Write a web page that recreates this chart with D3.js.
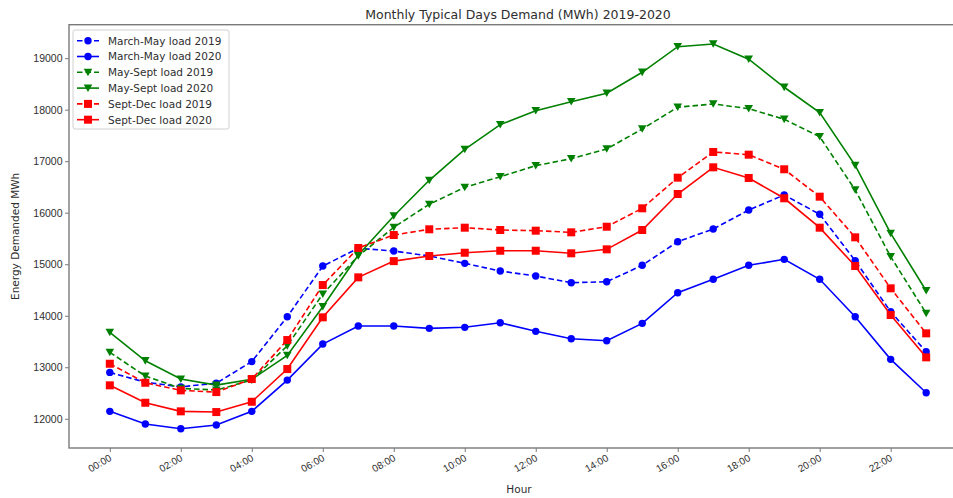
<!DOCTYPE html>
<html>
<head>
<meta charset="utf-8">
<script src="https://cdn.jsdelivr.net/npm/d3@7"></script>
<style>
  html, body { margin: 0; padding: 0; background: #fff; }
  svg { display: block; font-family: "DejaVu Sans", sans-serif; }
</style>
</head>
<body>
<svg id="chart" width="953" height="498"></svg>
<script>
// Hourly typical-day demand (MWh), one value per hour 00:00 .. 23:00
const hours = d3.range(0, 24);
const tickHours = d3.range(0, 24, 2);
const tickLabels = tickHours.map(h => String(h).padStart(2, "0") + ":00");
const yTicks = [12000, 13000, 14000, 15000, 16000, 17000, 18000, 19000];

const marchMay2019 = [12900, 12710, 12620, 12690, 13110, 13980, 14965, 15310, 15256, 15160, 15017, 14868,
                      14771, 14641, 14660, 14979, 15437, 15683, 16052, 16344, 15969, 15068, 14078, 13301];
const marchMay2020 = [12144, 11897, 11806, 11878, 12144, 12751, 13450, 13800, 13800, 13755, 13775, 13864,
                      13697, 13553, 13515, 13852, 14447, 14707, 14979, 15095, 14707, 13981, 13153, 12505];
const maySept2019  = [13290, 12829, 12590, 12557, 12751, 13417, 14421, 15160, 15716, 16163, 16493, 16699,
                      16913, 17049, 17237, 17625, 18047, 18111, 18019, 17814, 17476, 16441, 15146, 14047];
const maySept2020  = [13678, 13126, 12771, 12654, 12765, 13231, 14175, 15180, 15936, 16629, 17231, 17710,
                      17981, 18155, 18320, 18726, 19223, 19276, 18979, 18435, 17942, 16920, 15600, 14485];
const septDec2019  = [13068, 12699, 12551, 12518, 12771, 13528, 14596, 15315, 15567, 15678, 15709, 15664,
                      15651, 15619, 15728, 16085, 16680, 17179, 17126, 16843, 16311, 15522, 14532, 13658];
const septDec2020  = [12649, 12311, 12144, 12130, 12330, 12965, 13969, 14745, 15060, 15159, 15223, 15262,
                      15262, 15212, 15289, 15664, 16363, 16881, 16674, 16280, 15709, 14965, 14014, 13192];

const seriesNames = ["March-May load 2019", "March-May load 2020", "May-Sept load 2019",
                     "May-Sept load 2020", "Sept-Dec load 2019", "Sept-Dec load 2020"];
const seriesValues = [marchMay2019, marchMay2020, maySept2019, maySept2020, septDec2019, septDec2020];

// Styling per series: colour, dashed or solid, marker shape
const seriesStyle = [
  { color: "#0000ff", dashed: true,  marker: "circle" },
  { color: "#0000ff", dashed: false, marker: "circle" },
  { color: "#008000", dashed: true,  marker: "triangle" },
  { color: "#008000", dashed: false, marker: "triangle" },
  { color: "#ff0000", dashed: true,  marker: "square" },
  { color: "#ff0000", dashed: false, marker: "square" }
];

const svg = d3.select("#chart");
const plot = { left: 69, right: 967, top: 24.7, bottom: 448 };

// Data limits padded by 5% on each side
const allVals = seriesValues.flat();
const yMin = d3.min(allVals), yMax = d3.max(allVals);
const yPad = (yMax - yMin) * 0.05;
const x = d3.scaleLinear().domain([0 - 23 * 0.05, 23 + 23 * 0.05]).range([plot.left, plot.right]);
const y = d3.scaleLinear().domain([yMin - yPad, yMax + yPad]).range([plot.bottom, plot.top]);

const textColor = "#2e2e2e";
const spineColor = "#7a7a7a";

// Title
svg.append("text")
  .attr("x", (plot.left + plot.right) / 2).attr("y", 19)
  .attr("text-anchor", "middle").attr("font-size", 12.5).attr("fill", textColor)
  .text("Monthly Typical Days Demand (MWh) 2019-2020");

// Axes
const xAxis = d3.axisBottom(x).tickValues(tickHours).tickFormat((d, i) => tickLabels[i])
  .tickSize(4).tickSizeOuter(0);
const yAxis = d3.axisLeft(y).tickValues(yTicks).tickFormat(d3.format("d"))
  .tickSize(4).tickSizeOuter(0);

const gx = svg.append("g").attr("transform", `translate(0,${plot.bottom})`).call(xAxis);
gx.select(".domain").remove();
gx.selectAll(".tick line").attr("stroke", spineColor);
gx.selectAll(".tick text")
  .attr("font-size", 10).attr("fill", textColor)
  .attr("text-anchor", "end")
  .attr("dy", null).attr("y", 0)
  .attr("transform", "translate(2,12) rotate(-30)");

const gy = svg.append("g").attr("transform", `translate(${plot.left},0)`).call(yAxis);
gy.select(".domain").remove();
gy.selectAll(".tick line").attr("stroke", spineColor);
gy.selectAll(".tick text").attr("font-size", 10.5).attr("fill", textColor).attr("x", -6.5);

// Axis labels
svg.append("text")
  .attr("x", (plot.left + plot.right) / 2 + 1).attr("y", 493)
  .attr("text-anchor", "middle").attr("font-size", 10.5).attr("fill", textColor)
  .text("Hour");
svg.append("text")
  .attr("transform", `translate(19,${(plot.top + plot.bottom) / 2}) rotate(-90)`)
  .attr("text-anchor", "middle").attr("font-size", 10.5).attr("fill", textColor)
  .text("Energy Demanded MWh");

// Lines and markers
const line = d3.line().x((d, i) => x(hours[i])).y(d => y(d));
const triangleDown = s => `M${-s},${-s * 0.85}L${s},${-s * 0.85}L0,${s * 0.9}Z`;

function drawMarker(g, shape, color, cx, cy) {
  if (shape === "circle") {
    g.append("circle").attr("cx", cx).attr("cy", cy).attr("r", 3.7).attr("fill", color);
  } else if (shape === "square") {
    g.append("rect").attr("x", cx - 4).attr("y", cy - 4).attr("width", 8).attr("height", 8).attr("fill", color);
  } else {
    g.append("path").attr("d", triangleDown(4.3)).attr("transform", `translate(${cx},${cy})`).attr("fill", color);
  }
}

seriesValues.forEach((vals, k) => {
  const st = seriesStyle[k];
  const g = svg.append("g");
  g.append("path").datum(vals)
    .attr("d", line).attr("fill", "none")
    .attr("stroke", st.color).attr("stroke-width", 1.6)
    .attr("stroke-dasharray", st.dashed ? "5.5,3" : null);
  vals.forEach((v, i) => drawMarker(g, st.marker, st.color, x(hours[i]), y(v)));
});

// Spines (right spine sits just beyond the canvas edge)
svg.append("rect")
  .attr("x", plot.left).attr("y", plot.top)
  .attr("width", plot.right - plot.left).attr("height", plot.bottom - plot.top)
  .attr("fill", "none").attr("stroke", spineColor).attr("stroke-width", 1.4);

// Legend
const legend = svg.append("g").attr("transform", "translate(73,30)");
legend.append("rect")
  .attr("x", 0).attr("y", 0).attr("width", 156).attr("height", 99).attr("rx", 2)
  .attr("fill", "#fff").attr("fill-opacity", 0.85).attr("stroke", "#d0d0d0").attr("stroke-width", 1);
seriesNames.forEach((name, k) => {
  const st = seriesStyle[k];
  const ly = 10.7 + k * 15.8;
  legend.append("line")
    .attr("x1", 4).attr("x2", 26).attr("y1", ly).attr("y2", ly)
    .attr("stroke", st.color).attr("stroke-width", 1.6)
    .attr("stroke-dasharray", st.dashed ? "5.5,3" : null);
  drawMarker(legend, st.marker, st.color, 15, ly);
  legend.append("text")
    .attr("x", 35).attr("y", ly + 3.8)
    .attr("font-size", 10.5).attr("fill", textColor)
    .text(name);
});
</script>
</body>
</html>
